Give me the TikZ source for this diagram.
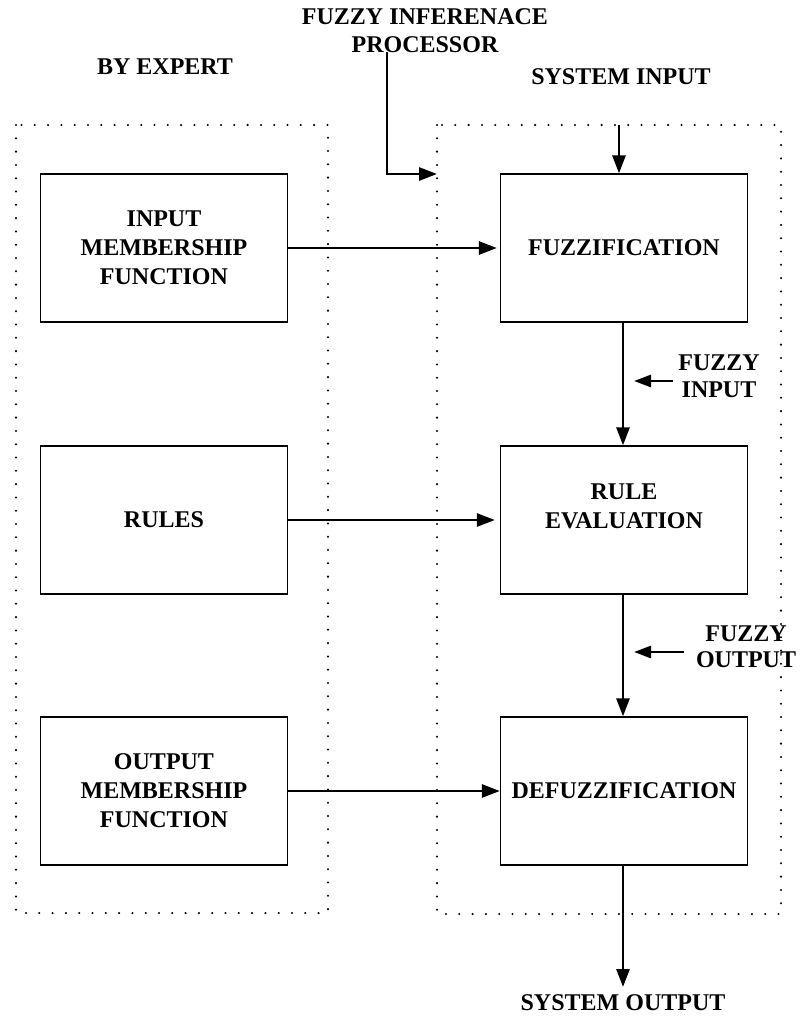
\documentclass[tikz,border=0pt]{standalone}
\usepackage{fontspec}
\setmainfont{Liberation Serif}
\usetikzlibrary{arrows.meta}
\tikzset{
  lbl/.style={font=\bfseries\fontsize{24}{28}\selectfont, align=center, inner sep=0pt},
  smalllbl/.style={font=\bfseries\fontsize{24}{26.5}\selectfont, align=center, inner sep=0pt},
  blockbox/.style={draw, line width=1.3pt, minimum width=247pt, minimum height=148pt, inner sep=0pt,
                   font=\bfseries\fontsize{24}{29}\selectfont, align=center},
  dotframe/.style={line width=2.3pt, line cap=round, dash pattern=on 0pt off 13.3pt},
  flow/.style={line width=2.8pt, -{Triangle[length=18pt,width=13pt]}},
  hint/.style={line width=2.8pt, -{Triangle[length=17pt,width=12pt]}}
}
\begin{document}
\begin{tikzpicture}[x=1pt,y=-1pt]
\useasboundingbox (0,0) rectangle (803,1018);

% dotted groupings
\draw[dotframe] (16,125) rectangle (328,913);
\draw[dotframe] (437,125) rectangle (781,914);

% titles
\node[lbl] (fiptitle) at (425,31) {FUZZY INFERENACE\\PROCESSOR};
\node[lbl] (expert) at (165,67) {BY EXPERT};
\node[lbl] (sysin) at (621,77) {SYSTEM INPUT};
\node[lbl] (sysout) at (623,1003) {SYSTEM OUTPUT};

% knowledge supplied by the expert
\node[blockbox] (inmf) at (164,248) {INPUT\\MEMBERSHIP\\FUNCTION};
\node[blockbox] (rules) at (164,520) {RULES};
\node[blockbox] (outmf) at (164,791) {OUTPUT\\MEMBERSHIP\\FUNCTION};

% inference chain
\node[blockbox] (fuzz) at (624,248) {FUZZIFICATION};
\node[blockbox] (eval) at (624,520) {RULE\\EVALUATION\\[-2pt]\vphantom{X}};
\node[blockbox] (defuzz) at (624,791) {DEFUZZIFICATION};

% labels between stages
\node[smalllbl] (fin) at (719,376) {FUZZY\\INPUT};
\node[smalllbl] (fout) at (746,647) {FUZZY\\OUTPUT};

% connector end points
\coordinate (fipstart) at (387,52);
\coordinate (fipend) at (437,174);
\coordinate (sysinstart) at (619,125);
\coordinate (finstart) at (673,381);
\coordinate (finend) at (634,381);
\coordinate (foutstart) at (684,652);
\coordinate (foutend) at (634,652);
\coordinate (sysoutend) at (623,987);

% connectors
\draw[flow] (fipstart) |- (fipend);
\draw[flow] (sysinstart) -- (sysinstart |- fuzz.north);
\draw[flow, shorten >=3pt] (inmf.east) -- (fuzz.west);
\draw[flow, shorten >=5pt] (rules.east) -- (eval.west);
\draw[flow] (outmf.east) -- (defuzz.west);
\draw[flow] ([xshift=-1pt]fuzz.south) -- ([xshift=-1pt]eval.north);
\draw[flow] ([xshift=-1pt]eval.south) -- ([xshift=-1pt]defuzz.north);
\draw[flow] ([xshift=-1pt]defuzz.south) -- (sysoutend);
\draw[hint] (finstart) -- (finend);
\draw[hint] (foutstart) -- (foutend);
\end{tikzpicture}
\end{document}
